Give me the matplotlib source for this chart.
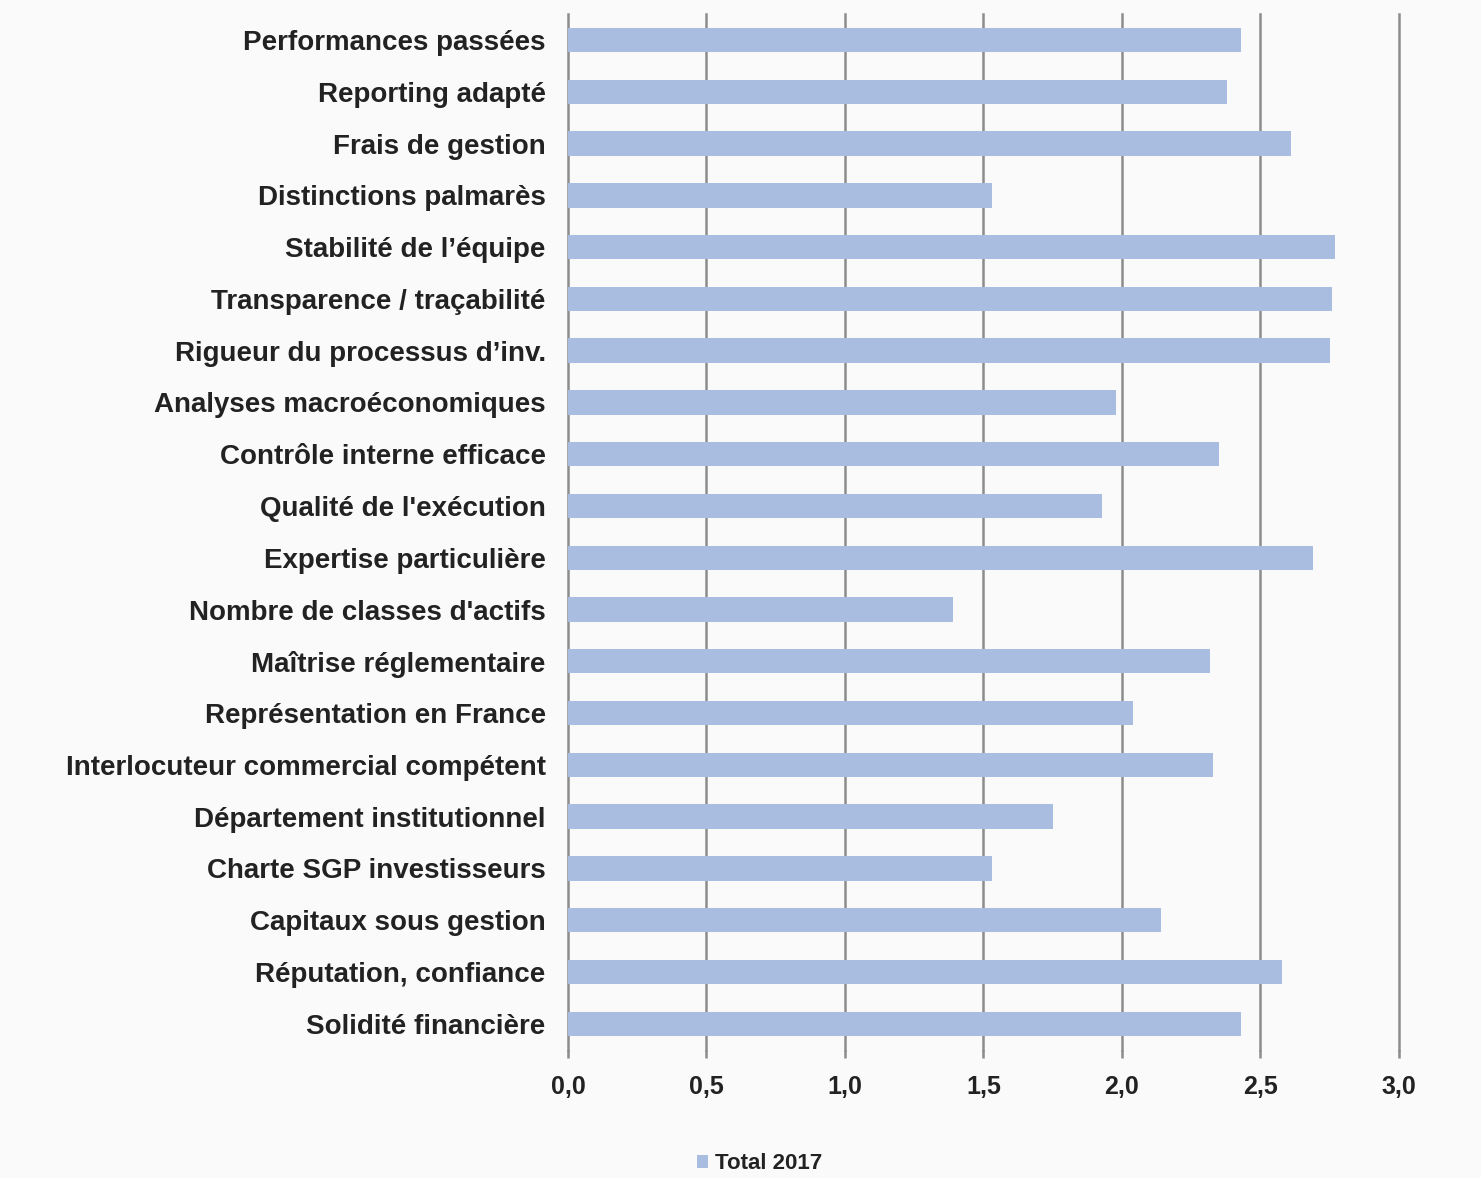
import numpy as np
import matplotlib.pyplot as plt

# data (top to bottom as in the picture)
criteria = [
    "Performances passées", "Reporting adapté", "Frais de gestion",
    "Distinctions palmarès", "Stabilité de l’équipe", "Transparence / traçabilité",
    "Rigueur du processus d’inv.", "Analyses macroéconomiques",
    "Contrôle interne efficace", "Qualité de l'exécution",
    "Expertise particulière", "Nombre de classes d'actifs",
    "Maîtrise réglementaire", "Représentation en France",
    "Interlocuteur commercial compétent", "Département institutionnel",
    "Charte SGP investisseurs", "Capitaux sous gestion",
    "Réputation, confiance", "Solidité financière",
]
total_2017 = [2.43, 2.38, 2.61, 1.53, 2.77, 2.76, 2.75, 1.98, 2.35, 1.93,
              2.69, 1.39, 2.32, 2.04, 2.33, 1.75, 1.53, 2.14, 2.58, 2.43]
xticks = [0.0, 0.5, 1.0, 1.5, 2.0, 2.5, 3.0]
xtick_labels = ["0,0", "0,5", "1,0", "1,5", "2,0", "2,5", "3,0"]

plt.rcParams['font.family'] = ['Liberation Sans', 'DejaVu Sans']

bg = '#fafafa'
fig = plt.figure(figsize=(14.81, 11.78), dpi=100, facecolor=bg)
ax = fig.add_axes([0.3835, 0.109, 0.561, 0.879], facecolor=bg)

y = np.arange(len(criteria))
ax.barh(y, total_2017, height=0.47, color='#a9bde0', label='Total 2017', zorder=3)

ax.set_ylim(len(criteria) - 0.5, -0.5)
ax.set_xlim(0, 3.0)
ax.set_yticks(y)
ax.set_yticklabels(criteria, fontsize=20, fontweight='bold', color='#222222')
ax.set_xticks(xticks)
ax.set_xticklabels(xtick_labels, fontsize=18, fontweight='bold', color='#222222')

ax.grid(axis='x', color='#8c8c8c', linewidth=1.8, zorder=1)
for line in ax.get_xgridlines():
    line.set_clip_on(False)
for s in ax.spines.values():
    s.set_visible(False)
ax.tick_params(axis='y', length=0, pad=16)
ax.tick_params(axis='x', length=6, width=1.8, color='#8c8c8c', pad=12)

fig.legend(loc='lower center', bbox_to_anchor=(0.513, -0.008), frameon=False,
           prop={'weight': 'bold', 'size': 16},
           handlelength=0.5, handleheight=0.5, handletextpad=0.3,
           labelcolor='#222222', borderpad=0.1)

fig.savefig('out.png', dpi=100, facecolor=bg)
